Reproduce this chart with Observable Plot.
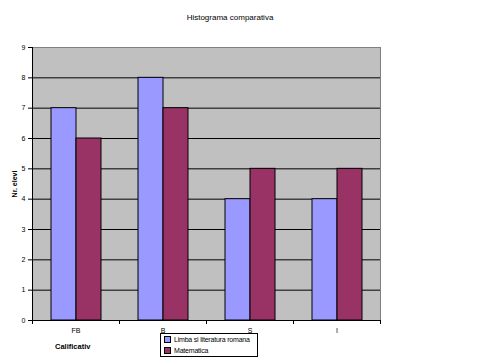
<!DOCTYPE html>
<html>
<head>
<meta charset="utf-8">
<script src="https://cdn.jsdelivr.net/npm/d3@7"></script>
<script src="https://cdn.jsdelivr.net/npm/@observablehq/plot@0.6"></script>
<style>
  body { margin: 0; background: #fff; }
  #wrap { position: relative; width: 480px; height: 361px; font-family: "Liberation Sans", Arial, sans-serif; }
  #title { position: absolute; top: 13px; left: 0; width: 460px; text-align: center; font-size: 8px; }
  #xlab { position: absolute; top: 342px; left: 55px; font-size: 7.5px; font-weight: bold; }
  #legend { position: absolute; left: 160px; top: 333px; width: 96px; height: 22px; border: 1px solid #000; background: #fff; font-size: 7px; }
  #legend div { display: flex; align-items: center; height: 11px; padding-left: 3px; white-space: nowrap; letter-spacing: -0.2px; }
  #legend span.sw { display: inline-block; width: 5px; height: 5px; border: 1px solid #000; margin-right: 3px; }
  svg [aria-label="y-axis label"] text { font-weight: bold; }
</style>
</head>
<body>
<div id="wrap">
  <div id="title">Histograma comparativa</div>
  <div id="chart"></div>
  <div id="xlab">Calificativ</div>
  <div id="legend"></div>
</div>
<script>
const categories = ["FB", "B", "S", "I"];
const seriesNames = ["Limba si literatura romana", "Matematica"];
const romana = [7, 8, 4, 4];
const matematica = [6, 7, 5, 5];
const colors = ["#9999ff", "#993366"];
const yTicks = [0, 1, 2, 3, 4, 5, 6, 7, 8, 9];

const data = [];
categories.forEach((c, i) => {
  data.push({cat: c, series: seriesNames[0], value: romana[i]});
  data.push({cat: c, series: seriesNames[1], value: matematica[i]});
});

const plot = Plot.plot({
  width: 480,
  height: 361,
  marginTop: 47,
  marginBottom: 41,
  marginLeft: 32,
  marginRight: 100,
  style: {fontFamily: "Liberation Sans, Arial, sans-serif", fontSize: "7px", background: "transparent", overflow: "visible", color: "#000"},
  fx: {domain: categories, padding: 0, label: null, axis: null},
  x: {domain: seriesNames, paddingInner: 0, paddingOuter: 0.72, axis: null},
  y: {domain: [0, 9], label: null},
  color: {domain: seriesNames, range: colors},
  marks: [
    Plot.ruleY(yTicks.filter(d => d > 0 && d < 9), {stroke: "#000", strokeWidth: 1}),
    Plot.barY(data, {fx: "cat", x: "series", y: "value", fill: "series", stroke: "#000", strokeWidth: 1}),
    Plot.ruleY([0], {stroke: "#000"}),
    Plot.axisY({ticks: yTicks, tickSize: 4, tickPadding: 3, label: "Nr. elevi", labelAnchor: "center", labelOffset: 20, labelArrow: "none"}),
    Plot.axisFx({anchor: "bottom", tickSize: 0, tickPadding: 8, label: null})
  ]
});

document.getElementById("chart").appendChild(plot);

// plot background, left axis line and boundary ticks using the library's scales
const fx = plot.scale("fx");
const band = d3.scaleBand().domain(fx.domain).range(fx.range).paddingInner(fx.paddingInner || 0).paddingOuter(fx.paddingOuter || 0);
const yS = plot.scale("y");
const y0 = yS.apply(0), y9 = yS.apply(9);
const xL = band(categories[0]);
const xR = band(categories[categories.length - 1]) + band.bandwidth();
const svg = d3.select(plot);
svg.insert("rect", ":first-child")
  .attr("x", xL).attr("y", y9).attr("width", xR - xL).attr("height", y0 - y9)
  .attr("fill", "#c0c0c0");
const g = svg.append("g").attr("shape-rendering", "crispEdges");
g.append("polyline").attr("fill", "none").attr("stroke", "#808080")
  .attr("points", `${xL},${y9} ${xR},${y9} ${xR},${y0}`);
g.append("line").attr("stroke", "#000").attr("x1", xL).attr("x2", xL).attr("y1", y9).attr("y2", y0);
g.append("line").attr("stroke", "#000").attr("x1", xL).attr("x2", xR).attr("y1", y0).attr("y2", y0);
const bounds = categories.map(c => band(c)).concat([xR]);
bounds.forEach(b => g.append("line").attr("stroke", "#000").attr("x1", b).attr("x2", b).attr("y1", y0).attr("y2", y0 + 4));

// legend
const leg = d3.select("#legend");
seriesNames.forEach((s, i) => {
  const row = leg.append("div");
  row.append("span").attr("class", "sw").style("background", colors[i]);
  row.append("span").text(s);
});
</script>
</body>
</html>
